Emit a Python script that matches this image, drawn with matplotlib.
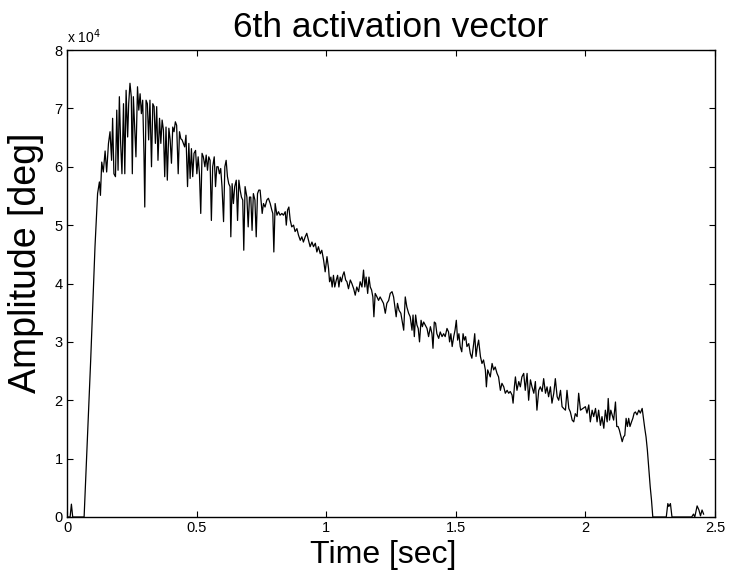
import matplotlib
matplotlib.use("Agg")
import matplotlib.pyplot as plt

title = "6th activation vector"
x_label = "Time [sec]"
y_label = "Amplitude [deg]"
x_ticks = [0, 0.5, 1, 1.5, 2, 2.5]
x_tick_labels = ["0", "0.5", "1", "1.5", "2", "2.5"]
y_ticks = [0, 1, 2, 3, 4, 5, 6, 7, 8]
y_tick_labels = ["0", "1", "2", "3", "4", "5", "6", "7", "8"]

# time in seconds, amplitude in units of 1e4 deg
time_s = [
    0.0, 0.012, 0.017, 0.022, 0.066, 0.0914, 0.108, 0.118,
    0.125, 0.129, 0.134, 0.140, 0.147, 0.153, 0.160, 0.166, 0.172, 0.176,
    0.181, 0.187, 0.192, 0.197, 0.202, 0.207, 0.212, 0.218, 0.223, 0.228,
    0.234, 0.238, 0.243, 0.248, 0.252, 0.256, 0.261, 0.266, 0.272, 0.277,
    0.282, 0.287, 0.292, 0.297, 0.300, 0.305, 0.310, 0.315, 0.320, 0.326,
    0.331, 0.336, 0.341, 0.346, 0.351, 0.357, 0.362, 0.367, 0.372, 0.377,
    0.382, 0.387, 0.393, 0.398, 0.403, 0.408, 0.413, 0.418, 0.423, 0.429,
    0.434, 0.439, 0.444, 0.449, 0.454, 0.459, 0.465, 0.470, 0.475, 0.480,
    0.485, 0.490, 0.496, 0.501, 0.506, 0.511, 0.516, 0.521, 0.526, 0.532,
    0.537, 0.542, 0.547, 0.552, 0.557, 0.562, 0.568, 0.573, 0.578, 0.583,
    0.588, 0.593, 0.598, 0.604, 0.609, 0.614, 0.619, 0.624, 0.629, 0.632,
    0.637, 0.642, 0.647, 0.653, 0.658, 0.663, 0.668, 0.673, 0.678, 0.682,
    0.687, 0.694, 0.699, 0.704, 0.709, 0.714, 0.719, 0.725, 0.730, 0.735,
    0.740,
    0.745, 0.753, 0.758, 0.764, 0.771, 0.777, 0.784, 0.790, 0.794, 0.798,
    0.803, 0.810, 0.816, 0.822, 0.829, 0.835, 0.842, 0.846, 0.851, 0.856,
    0.861, 0.867, 0.874, 0.880, 0.887, 0.893, 0.900, 0.906, 0.912, 0.919,
    0.925, 0.932, 0.938, 0.945, 0.951, 0.958, 0.964, 0.970, 0.977, 0.983,
    0.990, 0.996, 1.003, 1.009, 1.013, 1.018, 1.023, 1.028, 1.033, 1.039,
    1.044, 1.049, 1.054, 1.059, 1.064, 1.069, 1.075, 1.080, 1.086, 1.093,
    1.099, 1.106, 1.112, 1.118, 1.125, 1.131, 1.138, 1.144, 1.149, 1.154,
    1.160, 1.165, 1.170, 1.175, 1.180, 1.184, 1.189, 1.196, 1.202, 1.208,
    1.215, 1.221, 1.228, 1.234, 1.241, 1.247, 1.254, 1.260, 1.265, 1.270,
    1.275, 1.281,
    1.288, 1.299, 1.305, 1.311, 1.318, 1.324, 1.331, 1.335, 1.340, 1.345,
    1.350, 1.355, 1.360, 1.366, 1.371, 1.376, 1.382, 1.389, 1.395, 1.402,
    1.408, 1.412, 1.417, 1.422, 1.427, 1.434, 1.440, 1.447, 1.453, 1.459,
    1.466, 1.472, 1.476, 1.481, 1.486, 1.492, 1.497, 1.502, 1.507, 1.512,
    1.517, 1.523, 1.528, 1.533, 1.538, 1.543, 1.550, 1.556, 1.562, 1.569,
    1.573, 1.578, 1.583, 1.588, 1.595, 1.601, 1.607, 1.614, 1.618, 1.623,
    1.628, 1.633, 1.640, 1.646, 1.652, 1.659, 1.665, 1.672, 1.678, 1.685,
    1.691, 1.698, 1.704, 1.710, 1.717, 1.721, 1.726, 1.730, 1.736, 1.743,
    1.749, 1.755, 1.762, 1.768, 1.775, 1.781, 1.788, 1.794, 1.801, 1.807,
    1.813, 1.820, 1.826, 1.833, 1.839, 1.846, 1.852, 1.858, 1.865, 1.871,
    1.878, 1.884, 1.891, 1.897, 1.904, 1.910, 1.916, 1.923, 1.929, 1.936,
    1.942, 1.949, 1.955, 1.961, 1.968, 1.974, 1.981,
    2.000, 2.006, 2.013, 2.019, 2.026, 2.032, 2.039, 2.045, 2.051, 2.058,
    2.064, 2.071, 2.077, 2.084, 2.088, 2.093, 2.098, 2.103, 2.109, 2.116,
    2.121, 2.126, 2.131, 2.136, 2.142, 2.147, 2.152, 2.157, 2.162, 2.167,
    2.172, 2.178, 2.183, 2.188, 2.193, 2.199, 2.206, 2.212, 2.219, 2.224,
    2.229, 2.234, 2.239, 2.245, 2.250, 2.255, 2.260,
    2.312, 2.318, 2.322, 2.328, 2.334, 2.410, 2.417, 2.422, 2.431, 2.438,
    2.444, 2.450, 2.456,
]

amplitude_1e4 = [
    0.0, 0.0, 0.22, 0.0, 0.0, 2.69, 4.63, 5.54,
    5.74, 5.51, 6.08, 5.91, 6.27, 5.91, 6.40, 6.60, 6.11, 6.83,
    5.88, 5.83, 6.97, 5.94, 7.20, 6.40, 5.88, 7.08, 5.88, 7.31,
    6.51, 7.08, 7.43, 7.20, 5.88, 7.20, 6.68, 6.17, 7.37, 6.97,
    7.25, 6.91, 7.14, 6.20, 5.31, 7.14, 7.08, 6.46, 7.14, 6.00,
    7.08, 7.03, 6.40, 7.03, 6.11, 6.83, 6.40, 6.80, 6.63, 5.83,
    6.68, 5.77, 6.66, 6.46, 6.06, 6.68, 6.60, 6.77, 6.71, 5.88,
    6.60, 6.48, 6.46, 6.40, 6.34, 6.54, 5.66, 6.40, 5.80, 6.31,
    5.83, 6.23, 6.28, 5.88, 6.17, 5.88, 5.20, 6.23, 6.17, 6.00,
    6.20, 5.94, 6.17, 6.11, 5.08, 6.00, 6.17, 5.66, 6.00, 6.00,
    5.88, 5.97, 5.66, 5.06, 6.00, 6.11, 5.83, 5.71, 5.66, 4.80,
    5.71, 5.37, 5.66, 5.77, 5.08, 5.77, 5.60, 5.48, 5.43, 4.57,
    5.66, 5.48, 4.97, 5.48, 5.48, 4.91, 5.54, 5.43, 4.80, 5.54,
    5.60,
    5.60, 5.20, 5.37, 5.31, 5.43, 5.46, 5.37, 5.26, 5.20, 4.54,
    5.37, 5.17, 5.23, 5.17, 5.20, 5.17, 5.23, 5.00, 5.26, 5.31,
    5.09, 4.97, 5.00, 4.89, 4.94, 4.83, 4.74, 4.80, 4.71, 4.80,
    4.86, 4.74, 4.63, 4.71, 4.63, 4.69, 4.54, 4.63, 4.51, 4.57,
    4.40, 4.20, 4.46, 4.26, 4.03, 4.11, 3.94, 4.14, 3.94, 4.06,
    4.14, 3.94, 4.11, 4.03, 4.14, 4.20, 4.06, 4.03, 3.91, 4.06,
    4.00, 3.91, 3.80, 3.94, 3.86, 4.03, 3.94, 4.23, 3.94, 4.11,
    3.83, 4.11, 3.94, 3.89, 3.77, 3.43, 3.83, 3.77, 3.71, 3.77,
    3.71, 3.66, 3.49, 3.66, 3.71, 3.83, 3.86, 3.77, 3.60, 3.43,
    3.66, 3.54,
    3.49, 3.20, 3.77, 3.60, 3.49, 3.43, 3.20, 3.46, 3.09, 3.46,
    3.29, 3.23, 3.00, 3.37, 3.26, 3.34, 3.29, 3.23, 3.09, 3.26,
    3.14, 2.89, 3.34, 3.32, 3.14, 3.06, 3.17, 3.09, 3.14, 3.09,
    3.23, 3.17, 3.00, 3.14, 2.92, 3.09, 3.20, 3.37, 3.03, 3.14,
    2.92, 2.83, 3.14, 3.03, 3.09, 2.92, 2.97, 2.80, 2.72, 2.97,
    3.14, 2.75, 2.92, 3.03, 2.75, 2.63, 2.69, 2.52, 2.23, 2.52,
    2.46, 2.40, 2.63, 2.52, 2.57, 2.46, 2.40, 2.17, 2.29, 2.23,
    2.12, 2.17, 2.12, 2.15, 2.09, 1.95, 2.23, 2.40, 2.17, 2.32,
    2.23, 2.40, 2.46, 2.17, 2.46, 2.00, 2.35, 2.23, 2.12, 2.32,
    1.83, 2.17, 2.23, 2.15, 2.37, 2.12, 2.23, 2.06, 2.23, 1.95,
    2.12, 2.37, 2.06, 2.00, 2.17, 1.89, 1.86, 1.83, 2.17, 1.86,
    1.80, 1.66, 1.63, 1.77, 1.72, 2.12, 1.83,
    1.89, 1.78, 1.92, 1.63, 1.83, 1.72, 1.86, 1.63, 1.83, 1.57,
    1.72, 1.52, 1.83, 1.63, 2.03, 1.66, 1.83, 1.75, 1.66, 1.97,
    1.55, 1.55, 1.49, 1.40, 1.29, 1.37, 1.40, 1.69, 1.55, 1.69,
    1.55, 1.63, 1.69, 1.78, 1.80, 1.75, 1.83, 1.78, 1.86, 1.69,
    1.52, 1.37, 1.15, 0.80, 0.52, 0.29, 0.0,
    0.0, 0.23, 0.18, 0.23, 0.0, 0.0, 0.05, 0.0, 0.19, 0.12,
    0.02, 0.12, 0.05,
]

font = "Liberation Sans"
plt.rcParams["font.family"] = [font, "DejaVu Sans"]

fig = plt.figure(figsize=(7.29, 5.74), dpi=100)
ax = fig.add_axes([67 / 729, 57 / 574, 648 / 729, 467 / 574])

ax.plot(time_s, amplitude_1e4, color="black", linewidth=0.9)

ax.set_xlim(0, 2.5)
ax.set_ylim(0, 8)
ax.set_xticks(x_ticks)
ax.set_xticklabels(x_tick_labels)
ax.set_yticks(y_ticks)
ax.set_yticklabels(y_tick_labels)
ax.tick_params(direction="in", length=4, width=0.8, top=True, right=True,
               labelsize=10.5, pad=3)
for s in ax.spines.values():
    s.set_linewidth(1.0)

ax.set_title(title, fontsize=25.5, pad=9.5)
ax.set_xlabel(x_label, fontsize=23)
ax.set_ylabel(y_label, fontsize=27)
ax.xaxis.set_label_coords(0.488, -0.050, transform=ax.transAxes)
ax.xaxis.label.set_va("top")
ax.yaxis.set_label_coords(-0.035, 0.545, transform=ax.transAxes)
ax.text(0.0, 1.008, r"x 10$^{4}$", transform=ax.transAxes, fontsize=10,
        ha="left", va="bottom")

fig.savefig("out.png", dpi=100)
